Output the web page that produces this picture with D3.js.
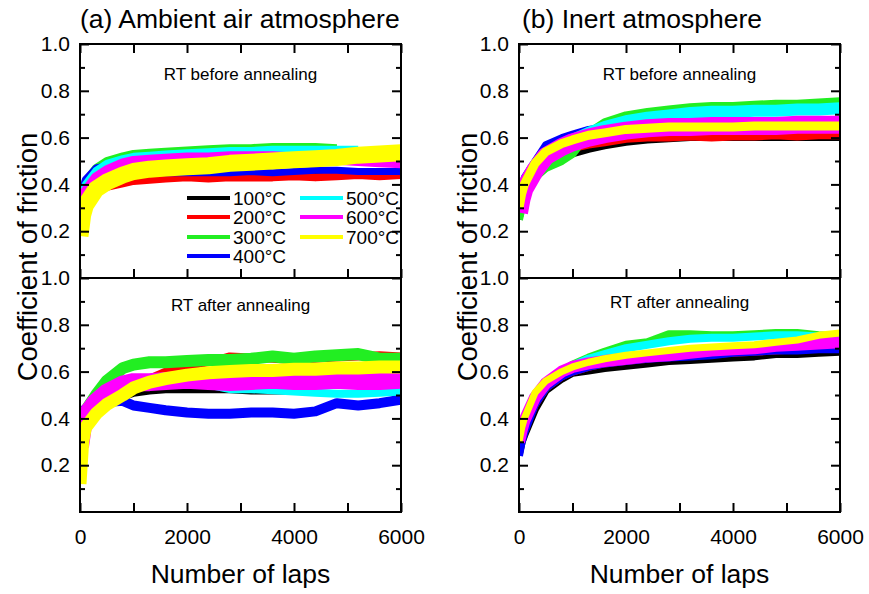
<!DOCTYPE html>
<html>
<head>
<meta charset="utf-8">
<script src="https://cdn.jsdelivr.net/npm/d3@7"></script>
<style>
  body { margin: 0; background: #fff; }
  svg { display: block; font-family: Arial, "Liberation Sans", sans-serif; }
</style>
</head>
<body>
<svg id="chart" width="869" height="594"></svg>
<script>
const laps = [0, 50, 100, 300, 500, 800, 1000, 1300, 1600, 2000, 2400, 2800, 3200, 3600, 4000, 4400, 4800, 5200, 5600, 6000];

const temps = ["100°C", "200°C", "300°C", "400°C", "500°C", "600°C", "700°C"];
const colors = ["#000000", "#ff0000", "#22ee22", "#0000ff", "#00ffff", "#ff00ff", "#ffff00"];

const xMajor = [0, 2000, 4000, 6000];
const xMinor = [1000, 3000, 5000];
const yMajor = [0.2, 0.4, 0.6, 0.8, 1.0];
const yMinor = [0.1, 0.3, 0.5, 0.7, 0.9];

// (a) ambient air, RT before annealing (rows follow temps)
const airBefore = [
  [0.26, 0.33, 0.37, 0.42, 0.43, 0.435, 0.44, 0.44, 0.44, 0.445, 0.445, 0.445, 0.445, 0.445, 0.445, 0.445, 0.445, 0.445, 0.445, 0.45],
  [0.25, 0.30, 0.33, 0.37, 0.39, 0.405, 0.415, 0.42, 0.425, 0.43, 0.425, 0.43, 0.43, 0.43, 0.435, 0.43, 0.435, 0.44, 0.435, 0.44],
  [0.28, 0.36, 0.41, 0.47, 0.50, 0.52, 0.53, 0.535, 0.54, 0.545, 0.55, 0.555, 0.555, 0.56, 0.56, 0.56, 0.555, null, null, null],
  [0.30, 0.38, 0.42, 0.47, 0.48, 0.47, 0.46, 0.455, 0.45, 0.45, 0.45, 0.45, 0.455, 0.45, 0.455, 0.46, 0.46, 0.455, 0.455, 0.455],
  [0.28, 0.35, 0.40, 0.46, 0.49, 0.51, 0.52, 0.525, 0.53, 0.535, 0.54, 0.545, 0.545, 0.55, 0.55, 0.55, 0.55, 0.55, null, null],
  [0.27, 0.33, 0.37, 0.43, 0.46, 0.49, 0.50, 0.505, 0.51, 0.515, 0.515, 0.52, 0.52, 0.52, 0.515, 0.51, 0.505, 0.50, 0.495, 0.49],
  [0.18, 0.27, 0.31, 0.38, 0.41, 0.44, 0.455, 0.465, 0.47, 0.475, 0.48, 0.49, 0.495, 0.50, 0.505, 0.51, 0.515, 0.525, 0.53, 0.535]
];

// (a) ambient air, RT after annealing
const airAfter = [
  [0.22, 0.32, 0.38, 0.43, 0.46, 0.49, 0.505, 0.515, 0.52, 0.52, 0.52, 0.52, 0.515, 0.515, 0.515, 0.51, 0.505, 0.505, 0.51, 0.51],
  [0.28, 0.36, 0.40, 0.44, 0.46, 0.50, 0.53, 0.57, 0.60, 0.625, 0.64, 0.665, 0.66, 0.655, 0.65, 0.655, 0.66, 0.665, 0.67, 0.665],
  [0.30, 0.38, 0.43, 0.50, 0.56, 0.615, 0.63, 0.64, 0.64, 0.645, 0.65, 0.65, 0.655, 0.665, 0.655, 0.665, 0.67, 0.675, 0.655, 0.655],
  [0.30, 0.40, 0.44, 0.46, 0.47, 0.475, 0.455, 0.445, 0.435, 0.425, 0.42, 0.42, 0.425, 0.425, 0.42, 0.43, 0.465, 0.455, 0.465, 0.48],
  [0.28, 0.36, 0.40, 0.46, 0.50, 0.53, 0.545, 0.55, 0.55, 0.55, 0.545, 0.525, 0.525, 0.52, 0.515, 0.51, 0.505, 0.505, 0.51, 0.515],
  [0.28, 0.36, 0.41, 0.47, 0.51, 0.545, 0.555, 0.555, 0.56, 0.565, 0.56, 0.555, 0.56, 0.565, 0.56, 0.56, 0.565, 0.56, 0.56, 0.565],
  [0.12, 0.30, 0.36, 0.42, 0.46, 0.50, 0.53, 0.555, 0.57, 0.585, 0.595, 0.60, 0.605, 0.605, 0.61, 0.61, 0.615, 0.615, 0.62, 0.62]
];

// (b) inert atmosphere, RT before annealing
const inertBefore = [
  [0.25, 0.31, 0.35, 0.43, 0.47, 0.51, 0.53, 0.55, 0.565, 0.58, 0.59, 0.595, 0.60, 0.60, 0.60, 0.60, 0.60, 0.60, 0.60, 0.60],
  [0.26, 0.32, 0.36, 0.45, 0.50, 0.54, 0.555, 0.57, 0.58, 0.595, 0.60, 0.60, 0.605, 0.60, 0.605, 0.605, 0.61, 0.605, 0.61, 0.61],
  [0.25, 0.30, 0.34, 0.43, 0.47, 0.50, 0.53, 0.62, 0.665, 0.695, 0.71, 0.72, 0.73, 0.735, 0.735, 0.74, 0.745, 0.745, 0.75, 0.755],
  [0.32, 0.39, 0.43, 0.50, 0.57, 0.60, 0.615, 0.635, 0.645, 0.65, 0.655, 0.655, 0.66, 0.66, 0.66, 0.66, 0.66, 0.66, 0.66, 0.66],
  [0.30, 0.36, 0.40, 0.48, 0.53, 0.57, 0.59, 0.62, 0.645, 0.67, 0.685, 0.695, 0.705, 0.71, 0.71, 0.715, 0.715, 0.72, 0.72, 0.725],
  [0.28, 0.34, 0.38, 0.46, 0.52, 0.56, 0.58, 0.60, 0.615, 0.63, 0.64, 0.645, 0.645, 0.65, 0.65, 0.65, 0.65, 0.655, 0.655, 0.655],
  [0.30, 0.36, 0.40, 0.49, 0.54, 0.575, 0.59, 0.61, 0.62, 0.635, 0.64, 0.645, 0.645, 0.645, 0.645, 0.65, 0.65, 0.65, 0.65, 0.65]
];

// (b) inert atmosphere, RT after annealing
const inertAfter = [
  [0.25, 0.30, 0.33, 0.44, 0.52, 0.57, 0.595, 0.605, 0.615, 0.625, 0.635, 0.645, 0.65, 0.655, 0.66, 0.665, 0.675, 0.675, 0.68, 0.685],
  [0.26, 0.32, 0.36, 0.46, 0.53, 0.58, 0.60, 0.62, 0.635, 0.645, 0.655, 0.665, 0.67, 0.675, 0.68, 0.685, 0.69, 0.695, 0.70, 0.70],
  [0.30, 0.35, 0.38, 0.47, 0.53, 0.60, 0.63, 0.66, 0.685, 0.715, 0.725, 0.76, 0.76, 0.755, 0.755, 0.76, 0.765, 0.765, 0.755, 0.75],
  [0.24, 0.30, 0.34, 0.46, 0.53, 0.58, 0.60, 0.62, 0.635, 0.645, 0.655, 0.66, 0.665, 0.67, 0.68, 0.685, 0.69, 0.69, 0.695, 0.695],
  [0.30, 0.35, 0.39, 0.48, 0.55, 0.60, 0.625, 0.655, 0.675, 0.70, 0.715, 0.73, 0.74, 0.745, 0.745, 0.75, 0.755, 0.755, 0.75, 0.745],
  [0.30, 0.35, 0.39, 0.49, 0.55, 0.60, 0.62, 0.635, 0.645, 0.655, 0.665, 0.67, 0.68, 0.69, 0.695, 0.70, 0.71, 0.715, 0.72, 0.725],
  [0.30, 0.36, 0.40, 0.51, 0.56, 0.60, 0.62, 0.64, 0.655, 0.67, 0.68, 0.69, 0.70, 0.705, 0.71, 0.715, 0.725, 0.735, 0.755, 0.765]
];

const svg = d3.select("#chart");

// layout: two columns, each with two stacked panels sharing a border
const columns = [
  { left: 80, right: 401, title: "(a) Ambient air atmosphere", titleX: 80, labelX: 37 },
  { left: 519, right: 840, title: "(b) Inert atmosphere", titleX: 522, labelX: 477 }
];
const rows = [
  { top: 44, bottom: 278 },
  { top: 278, bottom: 512 }
];

const panels = [
  { col: 0, row: 0, data: airBefore, widths: [7, 8, 8, 7, 7, 10, 17], note: "RT before annealing", noteY: 80 },
  { col: 0, row: 1, data: airAfter, widths: [6, 8, 12, 10, 8, 18, 13], note: "RT after annealing", noteY: 311 },
  { col: 1, row: 0, data: inertBefore, widths: [7, 8, 8, 7, 12, 18, 9], note: "RT before annealing", noteY: 80 },
  { col: 1, row: 1, data: inertAfter, widths: [8, 8, 8, 8, 8, 12, 7], note: "RT after annealing", noteY: 308 }
];

panels.forEach((p, pi) => {
  const c = columns[p.col];
  const r = rows[p.row];
  const x = d3.scaleLinear().domain([0, 6000]).range([c.left, c.right]);
  const y = d3.scaleLinear().domain([0, 1]).range([r.bottom, r.top]);

  const g = svg.append("g");

  g.append("clipPath").attr("id", "clip" + pi)
    .append("rect")
    .attr("x", c.left).attr("y", r.top)
    .attr("width", c.right - c.left).attr("height", r.bottom - r.top);

  const line = d3.line()
    .defined(d => d != null)
    .x((d, i) => x(laps[i]))
    .y(d => y(d));

  g.append("g").attr("clip-path", `url(#clip${pi})`)
    .selectAll("path")
    .data(p.data)
    .join("path")
    .attr("d", line)
    .attr("fill", "none")
    .attr("stroke", (d, i) => colors[i])
    .attr("stroke-width", (d, i) => p.widths[i])
    .attr("stroke-linejoin", "round");

  // inward ticks on all sides
  const tickStyle = sel => {
    sel.select(".domain").remove();
    sel.selectAll(".tick line").attr("stroke", "#000").attr("stroke-width", 2);
    sel.selectAll(".tick text").attr("fill", "#000").attr("font-size", 21);
  };

  g.append("g").attr("transform", `translate(${c.left},0)`)
    .call(d3.axisLeft(y).tickValues(yMajor).tickSizeInner(-9).tickSizeOuter(0).tickPadding(10).tickFormat(d3.format(".1f")))
    .call(tickStyle);
  g.append("g").attr("transform", `translate(${c.left},0)`)
    .call(d3.axisLeft(y).tickValues(yMinor).tickSizeInner(-5).tickSizeOuter(0).tickFormat(""))
    .call(tickStyle);
  g.append("g").attr("transform", `translate(${c.right},0)`)
    .call(d3.axisRight(y).tickValues(yMajor).tickSizeInner(-9).tickSizeOuter(0).tickFormat(""))
    .call(tickStyle);
  g.append("g").attr("transform", `translate(${c.right},0)`)
    .call(d3.axisRight(y).tickValues(yMinor).tickSizeInner(-5).tickSizeOuter(0).tickFormat(""))
    .call(tickStyle);

  if (p.row === 0) {
    g.append("g").attr("transform", `translate(0,${r.top})`)
      .call(d3.axisTop(x).tickValues(xMajor.concat(xMinor)).tickSizeInner(-9).tickSizeOuter(0).tickFormat(""))
      .call(tickStyle);
    g.append("g").attr("transform", `translate(0,${r.bottom})`)
      .call(d3.axisBottom(x).tickValues(xMajor.concat(xMinor)).tickSizeInner(-9).tickSizeOuter(0).tickFormat(""))
      .call(tickStyle);
  } else {
    g.append("g").attr("transform", `translate(0,${r.bottom})`)
      .call(d3.axisBottom(x).tickValues(xMajor).tickSizeInner(-9).tickSizeOuter(0).tickPadding(17).tickFormat(d3.format("d")))
      .call(tickStyle);
    g.append("g").attr("transform", `translate(0,${r.bottom})`)
      .call(d3.axisBottom(x).tickValues(xMinor).tickSizeInner(-9).tickSizeOuter(0).tickFormat(""))
      .call(tickStyle);
  }

  g.append("rect")
    .attr("x", c.left).attr("y", r.top)
    .attr("width", c.right - c.left).attr("height", r.bottom - r.top)
    .attr("fill", "none").attr("stroke", "#000").attr("stroke-width", 2);

  g.append("text")
    .attr("x", (c.left + c.right) / 2).attr("y", p.noteY)
    .attr("text-anchor", "middle").attr("font-size", 17).attr("fill", "#000")
    .text(p.note);
});

columns.forEach(c => {
  svg.append("text")
    .attr("x", c.titleX).attr("y", 28)
    .attr("font-size", 26.5).attr("fill", "#000")
    .text(c.title);

  svg.append("text")
    .attr("transform", `translate(${c.labelX},257) rotate(-90)`)
    .attr("text-anchor", "middle").attr("font-size", 27.5).attr("fill", "#000")
    .text("Coefficient of friction");

  svg.append("text")
    .attr("x", (c.left + c.right) / 2).attr("y", 583)
    .attr("text-anchor", "middle").attr("font-size", 26.5).attr("fill", "#000")
    .text("Number of laps");
});

// legend inside panel (a) top
const legendCols = [187, 300];
const legendRows = [198, 217, 237, 256];
const legend = svg.append("g");
temps.forEach((t, i) => {
  const lx = legendCols[Math.floor(i / 4)];
  const ly = legendRows[i % 4];
  legend.append("line")
    .attr("x1", lx).attr("x2", lx + 43)
    .attr("y1", ly).attr("y2", ly)
    .attr("stroke", colors[i]).attr("stroke-width", 4);
  legend.append("text")
    .attr("x", lx + 46).attr("y", ly + 7)
    .attr("font-size", 19).attr("fill", "#000")
    .text(t);
});
</script>
</body>
</html>
